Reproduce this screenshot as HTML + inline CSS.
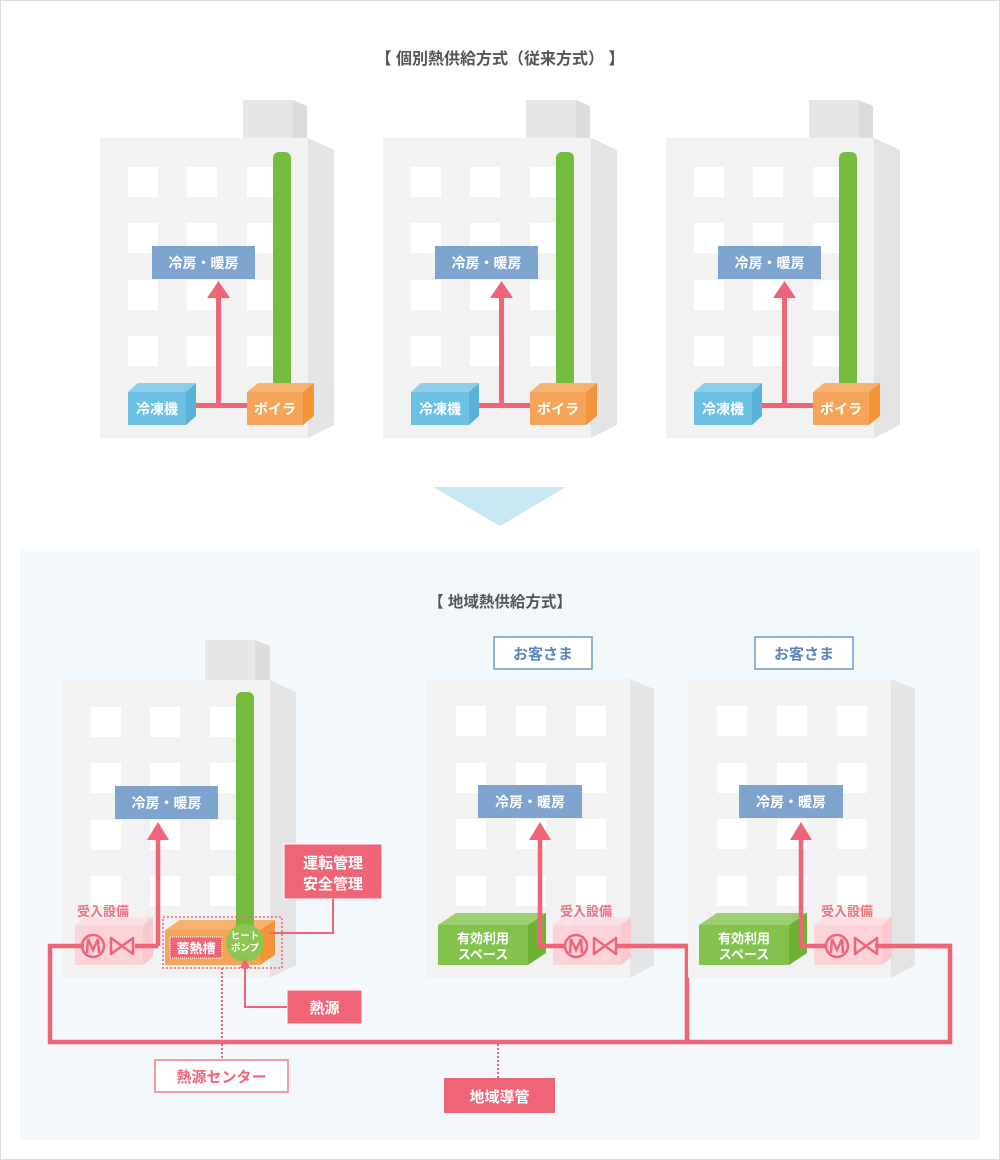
<!DOCTYPE html>
<html><head><meta charset="utf-8"><style>
html,body{margin:0;padding:0;background:#fff}
svg{display:block}
text{font-family:"Liberation Sans","Noto Sans CJK JP",sans-serif;font-weight:bold}
</style></head><body>
<svg width="1000" height="1160" viewBox="0 0 1000 1160" xmlns="http://www.w3.org/2000/svg">
<defs>
<g id="topb">
  <polygon points="293,100 307,106 307,138 293,138" fill="#dcdcdc"/>
  <rect x="243" y="100" width="50" height="38" fill="#e6e6e6"/>
  <polygon points="308,138 334,150 334,425 308,438" fill="#e4e4e4"/>
  <rect x="100" y="138" width="208" height="300" fill="#f2f2f2"/>
  <g fill="#fff">
    <rect x="128" y="167" width="30" height="30"/><rect x="187" y="167" width="30" height="30"/><rect x="247" y="167" width="30" height="30"/>
    <rect x="128" y="223" width="30" height="30"/><rect x="187" y="223" width="30" height="30"/><rect x="247" y="223" width="30" height="30"/>
    <rect x="128" y="280" width="30" height="30"/><rect x="187" y="280" width="30" height="30"/><rect x="247" y="280" width="30" height="30"/>
    <rect x="128" y="336" width="30" height="30"/><rect x="187" y="336" width="30" height="30"/><rect x="247" y="336" width="30" height="30"/>
  </g>
  <rect x="273" y="152" width="18" height="236" rx="6" fill="#76bc3c"/>
  <rect x="152" y="246" width="103" height="33" fill="#7fa3cf"/>
  <text x="203.5" y="268" font-size="14" fill="#fff" text-anchor="middle">冷房・暖房</text>
  <rect x="216" y="296" width="5" height="110" fill="#f06478"/>
  <polygon points="218.5,281 207,298 230,298" fill="#f06478"/>
  <rect x="186" y="403" width="62" height="5" fill="#f06478"/>
  <polygon points="128,392 138,383 196,383 186,392" fill="#8dcde8"/>
  <polygon points="186,392 196,383 196,416 186,425" fill="#57b1d8"/>
  <rect x="128" y="392" width="58" height="33" fill="#6cc0e3"/>
  <text x="157" y="414" font-size="14" fill="#fff" text-anchor="middle">冷凍機</text>
  <polygon points="247,392 258,383 314,383 303,392" fill="#f6b26e"/>
  <polygon points="303,392 314,383 314,416 303,425" fill="#f39438"/>
  <rect x="247" y="392" width="56" height="33" fill="#f5a55a"/>
  <text x="275" y="414" font-size="14" fill="#fff" text-anchor="middle">ボイラ</text>
</g>
<g id="recv">
  <polygon points="0,0 10,-8 78,-8 68,0" fill="#fde0e5"/>
  <polygon points="68,0 78,-8 78,32 68,40" fill="#fbc8d0"/>
  <rect x="0" y="0" width="68" height="40" fill="#fdd3da"/>
</g>
<g id="valve" fill="none" stroke="#f06478" stroke-width="2.5">
  <circle cx="0" cy="0" r="11"/>
  <path d="M-6,7 L-5,-7 L0,4 L5,-7 L6,7"/>
  <polygon points="18,-8 18,8 40,-8 40,8" stroke-linejoin="round"/>
</g>
</defs>

<rect x="0.5" y="0.5" width="999" height="1159" fill="#fff" stroke="#ddd"/>
<text x="500" y="64" font-size="16" fill="#555" text-anchor="middle">【 個別熱供給方式（従来方式） 】</text>

<use href="#topb"/>
<use href="#topb" x="283"/>
<use href="#topb" x="566"/>

<polygon points="433,487 566,487 500,526" fill="#c8e8f3"/>

<rect x="20" y="550" width="960" height="590" fill="#f2f8fc"/>
<text x="500" y="607" font-size="15.5" fill="#555" text-anchor="middle">【 地域熱供給方式】</text>

<polygon points="255,640 270,646 270,680 255,680" fill="#dcdcdc"/>
<rect x="205" y="640" width="50" height="40" fill="#e6e6e6"/>
<polygon points="270,680 296,692 296,965 270,978" fill="#e4e4e4"/>
<rect x="62" y="680" width="208" height="298" fill="#f2f2f2"/>
<g fill="#fff">
  <rect x="91" y="707" width="30" height="30"/><rect x="150" y="707" width="30" height="30"/><rect x="210" y="707" width="30" height="30"/>
  <rect x="91" y="763" width="30" height="30"/><rect x="150" y="763" width="30" height="30"/><rect x="210" y="763" width="30" height="30"/>
  <rect x="91" y="820" width="30" height="30"/><rect x="150" y="820" width="30" height="30"/><rect x="210" y="820" width="30" height="30"/>
  <rect x="91" y="876" width="30" height="30"/><rect x="150" y="876" width="30" height="30"/><rect x="210" y="876" width="30" height="30"/>
</g>
<rect x="236" y="692" width="18" height="240" rx="6" fill="#76bc3c"/>
<rect x="115" y="786" width="103" height="33" fill="#7fa3cf"/>
<text x="166.5" y="808" font-size="14" fill="#fff" text-anchor="middle">冷房・暖房</text>
<text x="103" y="916" font-size="13" fill="#f07080" text-anchor="middle">受入設備</text>
<use href="#recv" x="75" y="925"/>

<polygon points="165,930 180,920 275,920 260,930" fill="#f6b26e"/>
<polygon points="260,930 275,920 275,955 260,965" fill="#f39438"/>
<rect x="165" y="930" width="95" height="35" fill="#f5a55a"/>
<rect x="236" y="920" width="18" height="12" fill="#76bc3c"/>
<rect x="163" y="917" width="119" height="51" fill="none" stroke="#f06478" stroke-width="1.5" stroke-dasharray="2,2"/>
<rect x="170" y="937" width="52" height="21" fill="#f06478" stroke="#fff" stroke-width="1" stroke-dasharray="1,1"/>
<text x="196" y="953" font-size="13" fill="#fff" text-anchor="middle">蓄熱槽</text>
<circle cx="245" cy="943" r="19" fill="#8cc550"/>
<text x="245" y="939" font-size="9.5" fill="#fff" text-anchor="middle">ヒート</text>
<text x="245" y="951" font-size="9.5" fill="#fff" text-anchor="middle">ポンプ</text>

<g fill="none" stroke="#f06478" stroke-width="4.5">
  <path d="M158,946 L158,840"/>
  <path d="M135,946 L158,946"/>
  <path d="M84,946 L50,946 L50,1042 L950,1042 L950,946 L875,946"/>
  <path d="M687,1042 L687,946 L615,946"/>
</g>
<polygon points="158,822 147,840 169,840" fill="#f06478"/>
<use href="#valve" x="93" y="946"/>

<rect x="284" y="844" width="98" height="55" fill="#f06478" stroke="#fff"/>
<text x="333" y="868" font-size="15" fill="#fff" text-anchor="middle">運転管理</text>
<text x="333" y="889" font-size="15" fill="#fff" text-anchor="middle">安全管理</text>
<path d="M333,899 L333,933 L270,933" fill="none" stroke="#f06478" stroke-width="2"/>
<rect x="287" y="990" width="75" height="34" fill="#f06478" stroke="#fff"/>
<text x="324.5" y="1013" font-size="15" fill="#fff" text-anchor="middle">熱源</text>
<path d="M287,1007 L245,1007 L245,968" fill="none" stroke="#f06478" stroke-width="2"/>
<polygon points="245,958 240,968 250,968" fill="#f06478"/>

<path d="M222,968 L222,1060" stroke="#f06478" stroke-width="2" stroke-dasharray="2,2"/>
<rect x="155" y="1060" width="133" height="32" fill="#fff" stroke="#f07a8a" stroke-width="1.5"/>
<text x="221.5" y="1082" font-size="15" fill="#f06478" text-anchor="middle">熱源センター</text>
<path d="M498,1044 L498,1078" stroke="#f06478" stroke-width="2" stroke-dasharray="2,2"/>
<rect x="444" y="1078" width="111" height="35" fill="#f06478"/>
<text x="499.5" y="1102" font-size="15" fill="#fff" text-anchor="middle">地域導管</text>

<g id="cust">
  <rect x="494" y="637" width="98" height="32" fill="#fff" stroke="#6e9ad0" stroke-width="1.5"/>
  <text x="543" y="659" font-size="15" fill="#5a86c0" text-anchor="middle">お客さま</text>
  <polygon points="630,679 654,689 654,965 630,978" fill="#e4e4e4"/>
  <rect x="427" y="679" width="203" height="299" fill="#f2f2f2"/>
  <g fill="#fff">
    <rect x="456" y="706" width="30" height="30"/><rect x="516" y="706" width="30" height="30"/><rect x="576" y="706" width="30" height="30"/>
    <rect x="456" y="763" width="30" height="30"/><rect x="516" y="763" width="30" height="30"/><rect x="576" y="763" width="30" height="30"/>
    <rect x="456" y="819" width="30" height="30"/><rect x="516" y="819" width="30" height="30"/><rect x="576" y="819" width="30" height="30"/>
    <rect x="456" y="876" width="30" height="30"/><rect x="516" y="876" width="30" height="30"/><rect x="576" y="876" width="30" height="30"/>
  </g>
  <rect x="478" y="785" width="104" height="33" fill="#7fa3cf"/>
  <text x="530" y="807" font-size="14" fill="#fff" text-anchor="middle">冷房・暖房</text>
  <polygon points="438,925 456,913 546,913 528,925" fill="#9ccf6e"/>
  <polygon points="528,925 546,913 546,953 528,965" fill="#6cb234"/>
  <rect x="438" y="925" width="90" height="40" fill="#84c24e"/>
  <text x="483" y="943" font-size="13" fill="#fff" text-anchor="middle">有効利用</text>
  <text x="483" y="959" font-size="13" fill="#fff" text-anchor="middle">スペース</text>
  <text x="586" y="916" font-size="13" fill="#f07080" text-anchor="middle">受入設備</text>
  <use href="#recv" x="553" y="925"/>
</g>
<use href="#cust" x="261"/>
<g fill="none" stroke="#f06478" stroke-width="4.5">
  <path d="M565,946 L540,946 L540,840"/>
  <path d="M826,946 L801,946 L801,840"/>
  <path d="M615,946 L687,946"/>
  <path d="M875,946 L950,946"/>
</g>
<polygon points="540,822 529,840 551,840" fill="#f06478"/>
<polygon points="801,822 790,840 812,840" fill="#f06478"/>
<use href="#valve" x="576" y="946"/>
<use href="#valve" x="837" y="946"/>
</svg>
</body></html>
